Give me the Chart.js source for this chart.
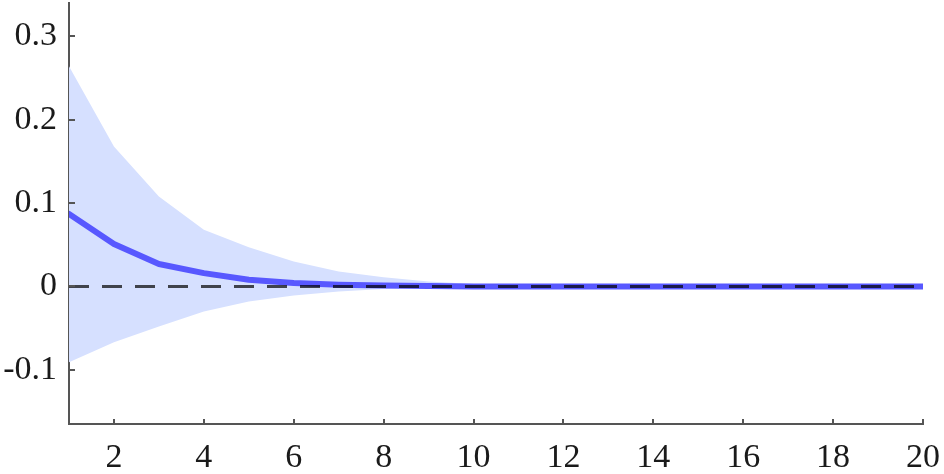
<!DOCTYPE html>
<html>
<head>
<meta charset="utf-8">
<script src="https://cdn.jsdelivr.net/npm/chart.js@4/dist/chart.umd.min.js"></script>
<style>
  body { margin: 0; background: #fff; }
  canvas { display: block; }
</style>
</head>
<body>
<canvas id="irfChart" width="944" height="474"></canvas>
<script>
// Horizonte y respuesta al impulso
const horizons = [1, 2, 3, 4, 5, 6, 7, 8, 9, 10, 11, 12, 13, 14, 15, 16, 17, 18, 19, 20];
const response = [0.087, 0.051, 0.027, 0.016, 0.008, 0.004, 0.002, 0.001, 0.0005, 0, 0, 0, 0, 0, 0, 0, 0, 0, 0, 0];
const upperBand = [0.264, 0.168, 0.108, 0.068, 0.047, 0.030, 0.018, 0.011, 0.006, 0.003, 0.0015, 0.0007, 0, 0, 0, 0, 0, 0, 0, 0];
const lowerBand = [-0.091, -0.067, -0.048, -0.030, -0.018, -0.011, -0.006, -0.003, -0.0015, -0.0007, 0, 0, 0, 0, 0, 0, 0, 0, 0, 0];
const zeroLineX = [1, 20];
const zeroLineY = [0, 0];
const xTicks = [2, 4, 6, 8, 10, 12, 14, 16, 18, 20];
const yTicks = [-0.1, 0, 0.1, 0.2, 0.3];

const axisColor = '#555555';
const fontSpec = { family: "'Liberation Serif', 'Times New Roman', serif", size: 34 };

function toPoints(xs, ys) {
    return xs.map((x, i) => ({ x: x, y: ys[i] }));
}

// Marcas de los ejes hacia dentro
const innerTicks = {
    id: 'innerTicks',
    afterDraw(chart) {
        const { ctx, chartArea, scales } = chart;
        ctx.save();
        ctx.strokeStyle = axisColor;
        ctx.lineWidth = 2;
        ctx.beginPath();
        scales.x.ticks.forEach(t => {
            const px = Math.round(scales.x.getPixelForValue(t.value));
            ctx.moveTo(px, chartArea.bottom);
            ctx.lineTo(px, chartArea.bottom - 5);
        });
        scales.y.ticks.forEach(t => {
            const py = Math.round(scales.y.getPixelForValue(t.value));
            ctx.moveTo(chartArea.left, py);
            ctx.lineTo(chartArea.left + 6, py);
        });
        ctx.stroke();
        ctx.restore();
    }
};

new Chart(document.getElementById('irfChart'), {
    type: 'line',
    data: {
        datasets: [
            {
                data: toPoints(zeroLineX, zeroLineY),
                borderColor: 'rgba(0, 0, 0, 0.7)',
                borderWidth: 3,
                borderDash: [20, 13],
                pointRadius: 0,
                fill: false,
                order: 0
            },
            {
                data: toPoints(horizons, response),
                borderColor: 'rgb(88, 88, 255)',
                borderWidth: 6,
                borderCapStyle: 'round',
                borderJoinStyle: 'round',
                pointRadius: 0,
                fill: false,
                order: 1
            },
            {
                data: toPoints(horizons, upperBand),
                borderWidth: 0,
                borderColor: 'rgba(0,0,0,0)',
                backgroundColor: 'rgb(214, 224, 255)',
                pointRadius: 0,
                fill: '+1',
                order: 2
            },
            {
                data: toPoints(horizons, lowerBand),
                borderWidth: 0,
                borderColor: 'rgba(0,0,0,0)',
                pointRadius: 0,
                fill: false,
                order: 3
            }
        ]
    },
    options: {
        responsive: false,
        animation: false,
        layout: { padding: { top: 3, right: 21, left: 0, bottom: 0 } },
        plugins: {
            legend: { display: false },
            tooltip: { enabled: false }
        },
        scales: {
            x: {
                type: 'linear',
                min: 1,
                max: 20,
                afterBuildTicks: s => { s.ticks = xTicks.map(v => ({ value: v })); },
                afterFit: s => { s.height = 50; s.paddingLeft = 0; s.paddingRight = 0; },
                grid: { display: false, drawTicks: false },
                border: { display: true, color: axisColor, width: 2 },
                ticks: {
                    color: '#1a1a1a',
                    font: fontSpec,
                    padding: 14,
                    maxRotation: 0,
                    autoSkip: false
                }
            },
            y: {
                type: 'linear',
                min: -0.165,
                max: 0.34,
                afterBuildTicks: s => { s.ticks = yTicks.map(v => ({ value: v })); },
                afterFit: s => { s.width = 69; s.paddingTop = 0; s.paddingBottom = 0; },
                grid: { display: false, drawTicks: false },
                border: { display: true, color: axisColor, width: 2 },
                ticks: {
                    color: '#1a1a1a',
                    font: fontSpec,
                    padding: 12,
                    callback: v => String(Math.round(v * 10) / 10)
                }
            }
        }
    },
    plugins: [innerTicks]
});
</script>
</body>
</html>
